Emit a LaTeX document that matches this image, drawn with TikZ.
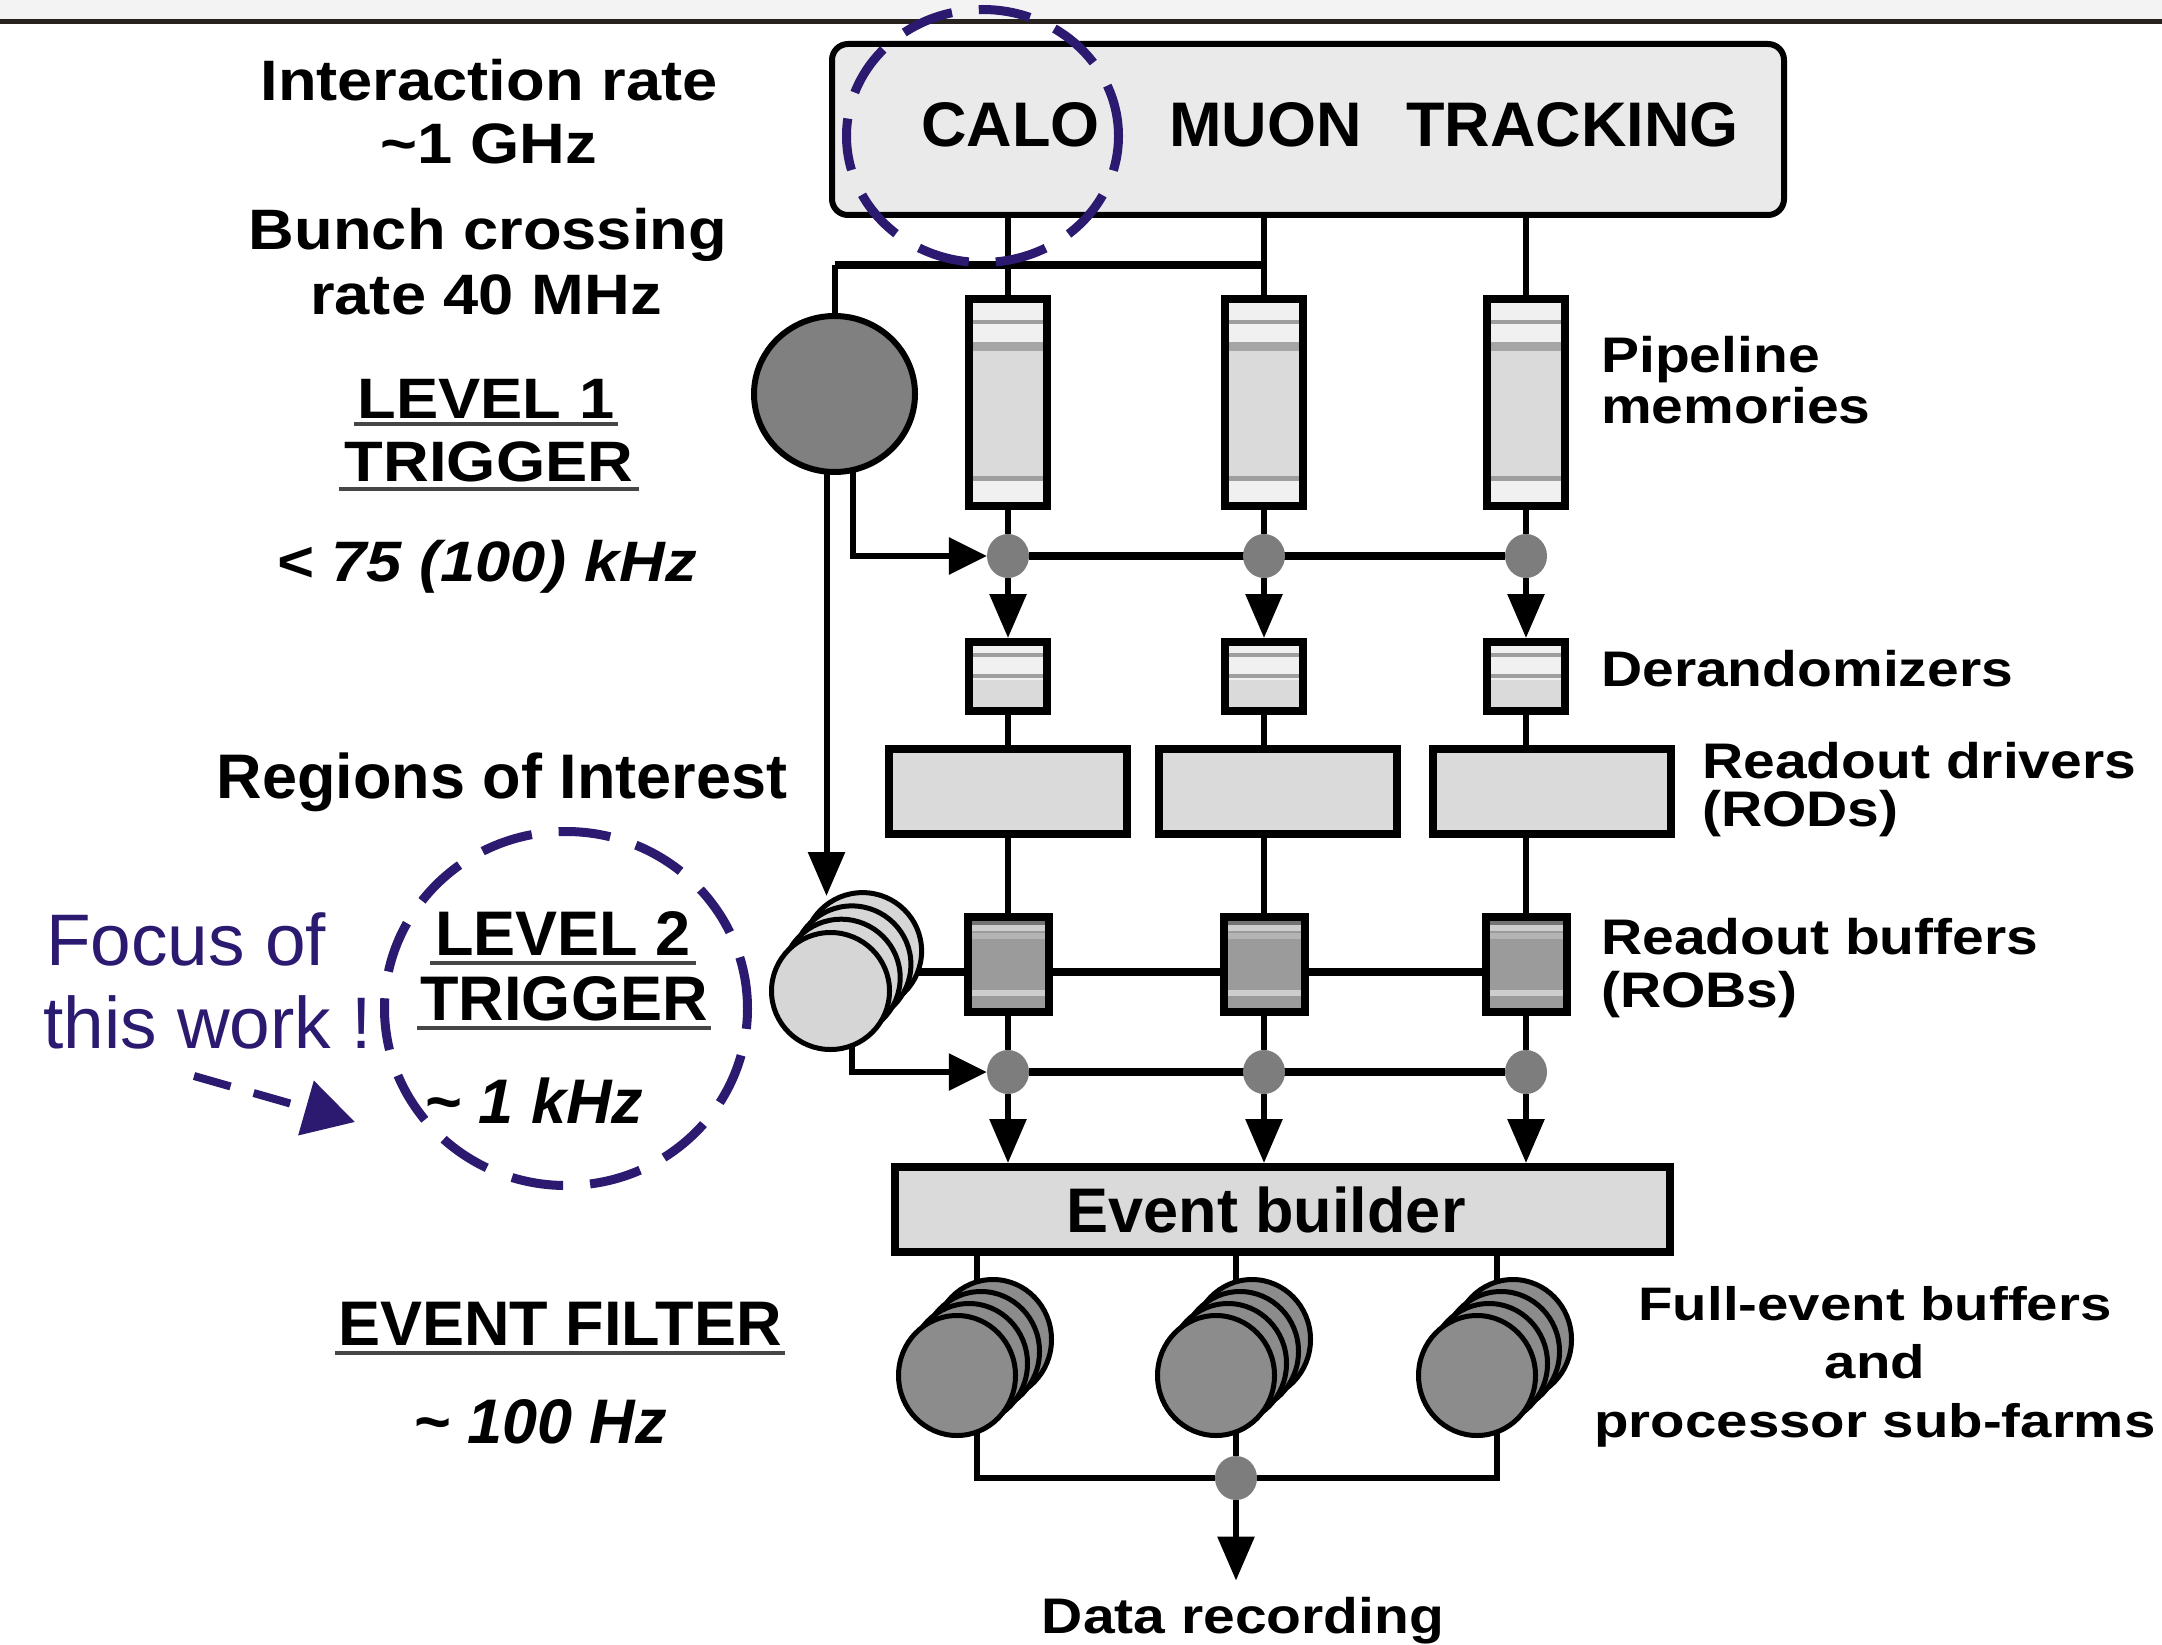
\documentclass[tikz,border=0pt]{standalone}
\usepackage{fontspec}
\setmainfont{Liberation Sans}
\newfontfamily\fN{Liberation Sans}
\newfontfamily\fW{Liberation Sans}[FakeStretch=1.11]
\newfontfamily\fR{Liberation Sans}[FakeStretch=1.14]
\newfontfamily\fF{Liberation Sans}[FakeStretch=1.2]
\usetikzlibrary{arrows.meta,calc,shapes.geometric,backgrounds}
\newcommand\fsz[1]{\fontsize{#1pt}{#1pt}\selectfont}
\definecolor{navy}{RGB}{44,26,112}
\definecolor{boxgray}{RGB}{218,218,218}
\definecolor{topgray}{RGB}{234,234,234}
\definecolor{lightband}{RGB}{240,240,240}
\definecolor{midline}{RGB}{158,158,158}
\definecolor{darkband}{RGB}{165,165,165}
\definecolor{darkfill}{RGB}{128,128,128}
\definecolor{robfill}{RGB}{155,155,155}
\definecolor{robdark}{RGB}{115,115,115}
\definecolor{roblight}{RGB}{205,205,205}
\definecolor{robmid}{RGB}{180,180,180}
\definecolor{farmfill}{RGB}{140,140,140}
\definecolor{dotgray}{RGB}{125,125,125}
\definecolor{l2fill}{RGB}{214,214,214}
\definecolor{bandgray}{RGB}{243,243,243}
\definecolor{ruleline}{RGB}{40,34,31}
\definecolor{ulgray}{RGB}{70,70,70}
\begin{document}
\begin{tikzpicture}[x=1pt,y=-1pt,
  conn/.style={line width=6pt},
  bus/.style={line width=8pt},
  vtip/.style={-{Triangle[length=44pt,width=36pt]}},
  htip/.style={-{Triangle[length=38pt,width=36pt]}},
  frame/.style={draw,line width=8pt,inner sep=0pt,rectangle},
  pipe/.style={frame,fill=boxgray,minimum width=78pt,minimum height=207pt},
  derand/.style={frame,fill=boxgray,minimum width=78pt,minimum height=69pt},
  rod/.style={frame,fill=boxgray,minimum width=238pt,minimum height=85pt},
  rob/.style={frame,fill=robfill,minimum width=81pt,minimum height=95pt},
  dot/.style={ellipse,fill=dotgray,inner sep=0pt,minimum width=42pt,minimum height=44pt},
  disc/.style={ellipse,draw,line width=5pt,inner sep=0pt},
  lbl/.style={inner sep=0pt,anchor=base},
  lblw/.style={inner sep=0pt,anchor=base west},
  fleft/.style={font=\fW\bfseries\fsz{57}},
  fleftit/.style={font=\fW\bfseries\itshape\fsz{57}},
  fmain/.style={font=\fN\bfseries\fsz{63}},
  fmainit/.style={font=\fN\bfseries\itshape\fsz{63}},
  fright/.style={font=\fR\bfseries\fsz{50}},
  ffarm/.style={font=\fF\bfseries\fsz{47}},
  uline/.style={draw=ulgray,line width=4pt},
  hilite/.style={draw=navy,line width=9pt,dash pattern=on 52pt off 27pt,ellipse,inner sep=0pt}
]
\useasboundingbox (0,0) rectangle (2162,1645);
\begin{scope}[on background layer]
  \fill[white] (0,0) rectangle (2162,1645);
  \fill[bandgray] (0,0) rectangle (2162,19);
  \fill[ruleline] (0,19) rectangle (2162,24);
\end{scope}

% detector box
\node[draw,line width=6pt,fill=topgray,rounded corners=16pt,inner sep=0pt,
      minimum width=952pt,minimum height=171pt] (det) at (1308,129.5) {};
\node[lblw,fmain] (calo) at (921,147) {CALO};
\node[lblw,fmain] (muon) at (1169,147) {MUON};
\node[lblw,fmain] (trk) at (1406,147) {TRACKING};

% level 1 trigger processor
\node[disc,fill=darkfill,line width=6pt,minimum width=161pt,minimum height=156pt] (l1) at (834.5,394) {};

% readout columns
\foreach \i/\x in {1/1008,2/1264,3/1526}{
  \node[pipe] (pipe\i) at (\x,402.5) {};
  \fill[lightband] (\x-35,303) rectangle (\x+35,342);
  \fill[midline] (\x-35,320) rectangle (\x+35,324);
  \fill[darkband] (\x-35,342) rectangle (\x+35,351);
  \fill[midline] (\x-35,476) rectangle (\x+35,481);
  \fill[lightband] (\x-35,481) rectangle (\x+35,502);
  \node[dot] (d1\i) at (\x,556) {};
  \node[derand] (der\i) at (\x,676.5) {};
  \fill[lightband] (\x-35,646) rectangle (\x+35,680);
  \fill[midline] (\x-35,653) rectangle (\x+35,657);
  \fill[midline] (\x-35,674) rectangle (\x+35,678);
  \node[rob] (rob\i) at (\x,964.5) {};
  \fill[robdark] (\x-36.5,921) rectangle (\x+36.5,925);
  \fill[roblight] (\x-36.5,925) rectangle (\x+36.5,931);
  \fill[robmid] (\x-36.5,933) rectangle (\x+36.5,939);
  \fill[roblight] (\x-36.5,990) rectangle (\x+36.5,996);
  \node[dot] (d2\i) at (\x,1072) {};
}
\node[rod] (rod1) at (1008,791.5) {};
\node[rod] (rod2) at (1277.5,791.5) {};
\node[rod] (rod3) at (1552,791.5) {};

% level 2 processors
\foreach \k in {3,2,1}
  \node[disc,fill=l2fill,minimum width=118pt,minimum height=117pt] (l2s\k) at ({830.5+10.7*\k},{991-13.3*\k}) {};
\node[disc,fill=l2fill,minimum width=118pt,minimum height=117pt] (l2) at (830.5,991) {};

% event builder and sub-farms
\node[frame,fill=boxgray,minimum width=775pt,minimum height=85pt] (eb) at (1282.5,1209.5) {};
\node[lbl,fmain] (ebl) at (1266,1232) {Event builder};
\foreach \i/\x in {1/957,2/1216,3/1477}{
  \foreach \k in {3,2,1}
    \node[disc,fill=farmfill,minimum width=117pt,minimum height=120pt] (farm\i s\k) at ({\x+12*\k},{1375.5-12*\k}) {};
  \node[disc,fill=farmfill,minimum width=117pt,minimum height=120pt] (farm\i) at (\x,1375.5) {};
  \coordinate (fx\i) at ($(farm\i.center)+(20,0)$);
}
\node[dot] (fdot) at (1236,1478) {};
\node[lbl,fright] (data) at (1243,1633) {Data recording};

% connectors
\begin{scope}[on background layer]
  \foreach \i in {1,2,3}{
    \draw[conn] (pipe\i.north |- det.south) -- (pipe\i.north);
    \draw[conn] (pipe\i.south) -- (d1\i);
    \draw[conn,vtip] (d1\i) -- (der\i.north);
    \draw[conn] (der\i.south) -- (der\i.south |- rod\i.north);
    \draw[conn] (rob\i.north |- rod\i.south) -- (rob\i.north);
    \draw[conn] (rob\i.south) -- (d2\i);
    \draw[conn,vtip] (d2\i) -- (d2\i |- eb.north);
    \draw[conn] (fx\i |- eb.south) -- (fx\i);
  }
  \draw[conn] (l1.north) -- (l1.north |- 0,265);
  \draw[bus] (l1.north |- 0,265) -- (pipe2.north |- 0,265);
  \draw[conn,vtip] ([xshift=-8pt]l1.center) -- ([xshift=-8pt]l1.center |- 0,896);
  \draw[conn,htip] ([xshift=18pt]l1.center) |- (d11.west);
  \draw[bus] (d11) -- (d13);
  \draw[bus] (l2.center |- 0,972) -- (rob3.center |- 0,972);
  \draw[conn,htip] ([xshift=21pt]l2.center) |- (d21.west);
  \draw[bus] (d21) -- (d23);
  \draw[conn] (fx1) |- (fdot) -| (fx3);
  \draw[conn] (fx2) -- (fdot);
  \draw[conn,vtip] (fdot) -- ([yshift=16pt]data.north -| fdot);
\end{scope}

% left-hand annotations
\node[lbl,fleft] (tint) at (489,101) {Interaction rate};
\node[lbl,fleft] (tghz) at (489,164) {\textasciitilde 1 GHz};
\node[lbl,fleft] (tbunch) at (488,250) {Bunch crossing};
\node[lbl,fleft] (trate) at (486,314) {rate 40 MHz};
\node[lbl,fleft] (tlv1) at (486,418) {LEVEL 1};
\node[lbl,fleft] (ttrg1) at (489,481) {TRIGGER};
\node[lbl,fleftit] (tl1rate) at (487,581) {\textless{} 75 (100) kHz};
\draw[uline] ([xshift=-3pt,yshift=-6pt]tlv1.base west) -- ([xshift=3pt,yshift=-6pt]tlv1.base east);
\draw[uline] ([xshift=-6pt,yshift=-8pt]ttrg1.base west) -- ([xshift=6pt,yshift=-8pt]ttrg1.base east);

\node[lbl,fmain] (troi) at (502,798) {Regions of Interest};
\node[lbl,fmain] (tlv2) at (563,955) {LEVEL 2};
\node[lbl,fmain] (ttrg2) at (564,1020) {TRIGGER};
\node[lbl,fmainit] (tl2rate) at (534,1123) {\textasciitilde{} 1 kHz};
\draw[uline] ([xshift=-5pt,yshift=-8pt]tlv2.base west) -- ([xshift=5pt,yshift=-8pt]tlv2.base east);
\draw[uline] ([xshift=-3pt,yshift=-8pt]ttrg2.base west) -- ([xshift=3pt,yshift=-8pt]ttrg2.base east);

\node[lbl,fmain] (tef) at (560,1345) {EVENT FILTER};
\node[lbl,fmainit] (tefrate) at (540,1443) {\textasciitilde{} 100 Hz};
\draw[uline] ([xshift=-3pt,yshift=-8pt]tef.base west) -- ([xshift=3pt,yshift=-8pt]tef.base east);

% right-hand labels
\node[lblw,fright] (tpipe) at (1601,372) {Pipeline};
\node[lblw,fright] (tmem) at (1601,423) {memories};
\node[lblw,fright] (tder) at (1601,686) {Derandomizers};
\node[lblw,fright] (trod) at (1702,778) {Readout drivers};
\node[lblw,fright] (trods) at (1702,826) {(RODs)};
\node[lblw,fright] (trob) at (1601,954) {Readout buffers};
\node[lblw,fright] (trobs) at (1601,1007) {(ROBs)};
\node[lbl,ffarm] (tfull) at (1875,1320) {Full-event buffers};
\node[lbl,ffarm] (tand) at (1875,1378) {and};
\node[lbl,ffarm] (tproc) at (1875,1437) {processor sub-farms};

% highlights
\node[hilite,minimum width=272pt,minimum height=253pt] (calohl) at (982.5,136) {};
\node[hilite,minimum width=363pt,minimum height=354pt] (l2hl) at (566,1008.5) {};
\node[lblw,font=\fN\fsz{73},text=navy] (tfocus) at (46,965) {Focus of};
\node[lblw,font=\fN\fsz{73},text=navy] (twork) at (43,1048) {this work !};
\coordinate (fa) at (194,1076);
\coordinate (fb) at (355,1122);
\draw[navy,line width=8pt,dash pattern=on 38pt off 24pt,-{Triangle[length=51pt,width=55pt]}] (fa) -- (fb);
\end{tikzpicture}
\end{document}
